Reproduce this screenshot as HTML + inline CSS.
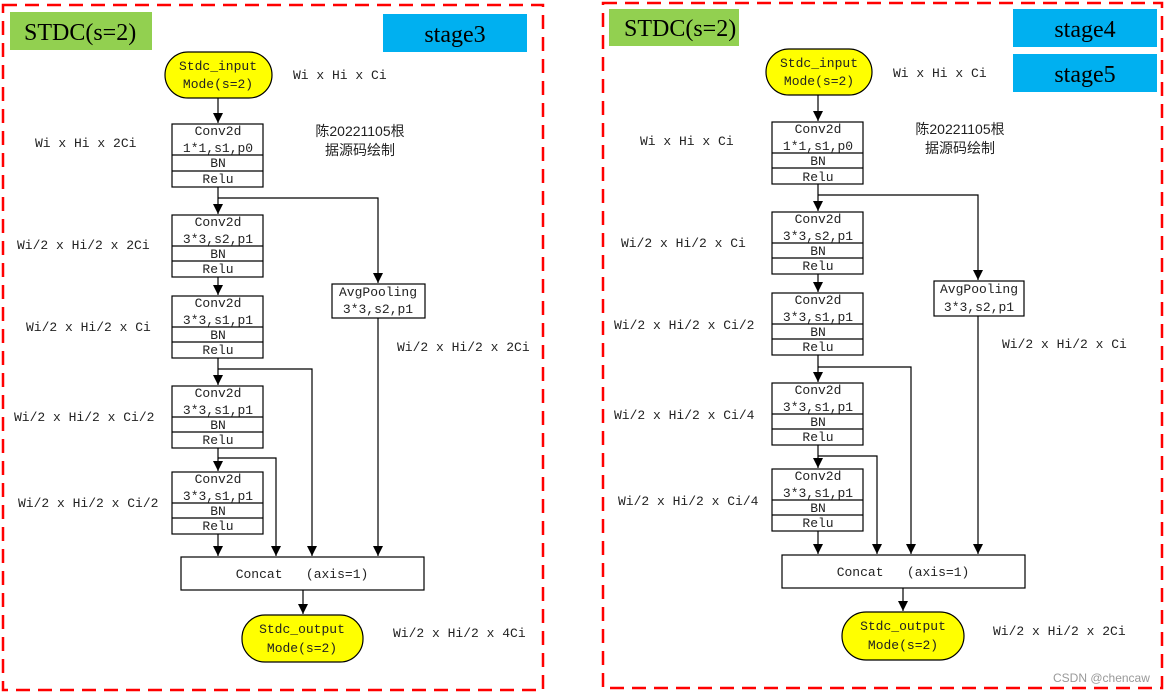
<!DOCTYPE html>
<html><head><meta charset="utf-8"><style>
html,body{margin:0;padding:0;background:#fff;}
svg{display:block;}
text{font-family:"Liberation Mono","Noto Sans CJK SC",monospace;font-size:13px;fill:#222;}
.c{text-anchor:middle;}
.cn{font-family:"Liberation Sans","Noto Sans CJK SC",sans-serif;font-size:14px;}
.h{font-family:"Liberation Serif","Noto Serif CJK SC",serif;font-size:24px;fill:#000;}
</style></head><body>
<svg width="1165" height="693" viewBox="0 0 1165 693" xmlns="http://www.w3.org/2000/svg">
<defs><marker id="a" markerWidth="10" markerHeight="10" refX="10" refY="5" orient="auto" markerUnits="userSpaceOnUse" viewBox="0 0 10 10"><path d="M0,0 L10,5 L0,10 z" fill="#000"/></marker>
</defs>
<g fill="none" stroke="#f00" stroke-width="2.5" stroke-dasharray="14,8">
<rect x="3" y="5" width="540" height="685"/>
<rect x="603" y="3" width="559" height="685"/>
</g>
<rect x="10" y="12" width="142" height="38" fill="#92d050"/>
<text class="h" x="24" y="40">STDC(s=2)</text>
<rect x="383" y="14" width="144" height="38" fill="#00b0f0"/>
<text class="h c" x="455" y="42">stage3</text>
<rect x="609" y="9" width="130" height="37" fill="#92d050"/>
<text class="h" x="624" y="36">STDC(s=2)</text>
<rect x="1013" y="9" width="144" height="38" fill="#00b0f0"/>
<text class="h c" x="1085" y="37">stage4</text>
<rect x="1013" y="54" width="144" height="38" fill="#00b0f0"/>
<text class="h c" x="1085" y="82">stage5</text>

<g stroke="#000" stroke-width="1.2" fill="none">
<line x1="218" y1="98" x2="218" y2="123" marker-end="url(#a)"/>
<line x1="218" y1="187" x2="218" y2="214" marker-end="url(#a)"/>
<polyline points="218,198 378,198 378,283" marker-end="url(#a)"/>
<line x1="218" y1="277" x2="218" y2="295" marker-end="url(#a)"/>
<line x1="218" y1="358" x2="218" y2="385" marker-end="url(#a)"/>
<polyline points="218,369 312,369 312,556" marker-end="url(#a)"/>
<line x1="218" y1="448" x2="218" y2="471" marker-end="url(#a)"/>
<polyline points="218,458 276,458 276,556" marker-end="url(#a)"/>
<line x1="218" y1="534" x2="218" y2="556" marker-end="url(#a)"/>
<line x1="378" y1="318" x2="378" y2="556" marker-end="url(#a)"/>
<line x1="303" y1="590" x2="303" y2="614" marker-end="url(#a)"/>
<line x1="818" y1="95" x2="818" y2="121" marker-end="url(#a)"/>
<line x1="818" y1="184" x2="818" y2="211" marker-end="url(#a)"/>
<polyline points="818,195 978,195 978,280" marker-end="url(#a)"/>
<line x1="818" y1="274" x2="818" y2="292" marker-end="url(#a)"/>
<line x1="818" y1="355" x2="818" y2="382" marker-end="url(#a)"/>
<polyline points="818,367 911,367 911,554" marker-end="url(#a)"/>
<line x1="818" y1="445" x2="818" y2="468" marker-end="url(#a)"/>
<polyline points="818,456 877,456 877,554" marker-end="url(#a)"/>
<line x1="818" y1="531" x2="818" y2="554" marker-end="url(#a)"/>
<line x1="978" y1="316" x2="978" y2="554" marker-end="url(#a)"/>
<line x1="903" y1="588" x2="903" y2="611" marker-end="url(#a)"/>

<rect x="172" y="124" width="91" height="63" fill="#fff"/><line x1="172" y1="155" x2="263" y2="155"/><line x1="172" y1="171" x2="263" y2="171"/>
<rect x="172" y="215" width="91" height="62" fill="#fff"/><line x1="172" y1="246" x2="263" y2="246"/><line x1="172" y1="261" x2="263" y2="261"/>
<rect x="172" y="296" width="91" height="62" fill="#fff"/><line x1="172" y1="327" x2="263" y2="327"/><line x1="172" y1="342" x2="263" y2="342"/>
<rect x="172" y="386" width="91" height="62" fill="#fff"/><line x1="172" y1="417" x2="263" y2="417"/><line x1="172" y1="432" x2="263" y2="432"/>
<rect x="172" y="472" width="91" height="62" fill="#fff"/><line x1="172" y1="503" x2="263" y2="503"/><line x1="172" y1="518" x2="263" y2="518"/>
<rect x="332" y="284" width="93" height="34" fill="#fff"/>
<rect x="181" y="557" width="243" height="33" fill="#fff"/>
<rect x="165" y="52" width="107" height="46" rx="23" fill="#ffff00"/>
<rect x="242" y="615" width="121" height="47" rx="23" fill="#ffff00"/>
<rect x="772" y="122" width="91" height="62" fill="#fff"/><line x1="772" y1="153" x2="863" y2="153"/><line x1="772" y1="168" x2="863" y2="168"/>
<rect x="772" y="212" width="91" height="62" fill="#fff"/><line x1="772" y1="243" x2="863" y2="243"/><line x1="772" y1="258" x2="863" y2="258"/>
<rect x="772" y="293" width="91" height="62" fill="#fff"/><line x1="772" y1="324" x2="863" y2="324"/><line x1="772" y1="339" x2="863" y2="339"/>
<rect x="772" y="383" width="91" height="62" fill="#fff"/><line x1="772" y1="414" x2="863" y2="414"/><line x1="772" y1="429" x2="863" y2="429"/>
<rect x="772" y="469" width="91" height="62" fill="#fff"/><line x1="772" y1="500" x2="863" y2="500"/><line x1="772" y1="515" x2="863" y2="515"/>
<rect x="934" y="281" width="90" height="35" fill="#fff"/>
<rect x="782" y="555" width="243" height="33" fill="#fff"/>
<rect x="766" y="49" width="106" height="46" rx="23" fill="#ffff00"/>
<rect x="842" y="612" width="122" height="48" rx="24" fill="#ffff00"/>
</g>

<g class="c">
<text x="218" y="70">Stdc_input</text><text x="218" y="88">Mode(s=2)</text>
<text x="218" y="135">Conv2d</text><text x="218" y="152">1*1,s1,p0</text><text x="218" y="167">BN</text><text x="218" y="183">Relu</text>
<text x="218" y="226">Conv2d</text><text x="218" y="243">3*3,s2,p1</text><text x="218" y="258">BN</text><text x="218" y="273">Relu</text>
<text x="218" y="307">Conv2d</text><text x="218" y="324">3*3,s1,p1</text><text x="218" y="339">BN</text><text x="218" y="354">Relu</text>
<text x="218" y="397">Conv2d</text><text x="218" y="414">3*3,s1,p1</text><text x="218" y="429">BN</text><text x="218" y="444">Relu</text>
<text x="218" y="483">Conv2d</text><text x="218" y="500">3*3,s1,p1</text><text x="218" y="515">BN</text><text x="218" y="530">Relu</text>
<text x="378" y="296">AvgPooling</text><text x="378" y="313">3*3,s2,p1</text>
<text x="302" y="578">Concat&#160;&#160;&#160;(axis=1)</text>
<text x="302" y="633">Stdc_output</text><text x="302" y="652">Mode(s=2)</text>
<text class="cn" x="360" y="136">陈20221105根</text><text class="cn" x="360" y="155">据源码绘制</text>
</g>
<text x="293" y="79">Wi x Hi x Ci</text>
<text x="35" y="147">Wi x Hi x 2Ci</text>
<text x="17" y="249">Wi/2 x Hi/2 x 2Ci</text>
<text x="26" y="331">Wi/2 x Hi/2 x Ci</text>
<text x="397" y="351">Wi/2 x Hi/2 x 2Ci</text>
<text x="14" y="421">Wi/2 x Hi/2 x Ci/2</text>
<text x="18" y="507">Wi/2 x Hi/2 x Ci/2</text>
<text x="393" y="637">Wi/2 x Hi/2 x 4Ci</text>

<g class="c">
<text x="819" y="67">Stdc_input</text><text x="819" y="85">Mode(s=2)</text>
<text x="818" y="133">Conv2d</text><text x="818" y="150">1*1,s1,p0</text><text x="818" y="165">BN</text><text x="818" y="181">Relu</text>
<text x="818" y="223">Conv2d</text><text x="818" y="240">3*3,s2,p1</text><text x="818" y="255">BN</text><text x="818" y="270">Relu</text>
<text x="818" y="304">Conv2d</text><text x="818" y="321">3*3,s1,p1</text><text x="818" y="336">BN</text><text x="818" y="351">Relu</text>
<text x="818" y="394">Conv2d</text><text x="818" y="411">3*3,s1,p1</text><text x="818" y="426">BN</text><text x="818" y="441">Relu</text>
<text x="818" y="480">Conv2d</text><text x="818" y="497">3*3,s1,p1</text><text x="818" y="512">BN</text><text x="818" y="527">Relu</text>
<text x="979" y="293">AvgPooling</text><text x="979" y="311">3*3,s2,p1</text>
<text x="903" y="576">Concat&#160;&#160;&#160;(axis=1)</text>
<text x="903" y="630">Stdc_output</text><text x="903" y="649">Mode(s=2)</text>
<text class="cn" x="960" y="134">陈20221105根</text><text class="cn" x="960" y="153">据源码绘制</text>
</g>
<text x="893" y="77">Wi x Hi x Ci</text>
<text x="640" y="145">Wi x Hi x Ci</text>
<text x="621" y="247">Wi/2 x Hi/2 x Ci</text>
<text x="614" y="329">Wi/2 x Hi/2 x Ci/2</text>
<text x="1002" y="348">Wi/2 x Hi/2 x Ci</text>
<text x="614" y="419">Wi/2 x Hi/2 x Ci/4</text>
<text x="618" y="505">Wi/2 x Hi/2 x Ci/4</text>
<text x="993" y="635">Wi/2 x Hi/2 x 2Ci</text>
<text x="1053" y="682" style="font-family:'Liberation Sans',sans-serif;font-size:12px;fill:#999">CSDN @chencaw</text>
</svg>
</body></html>
